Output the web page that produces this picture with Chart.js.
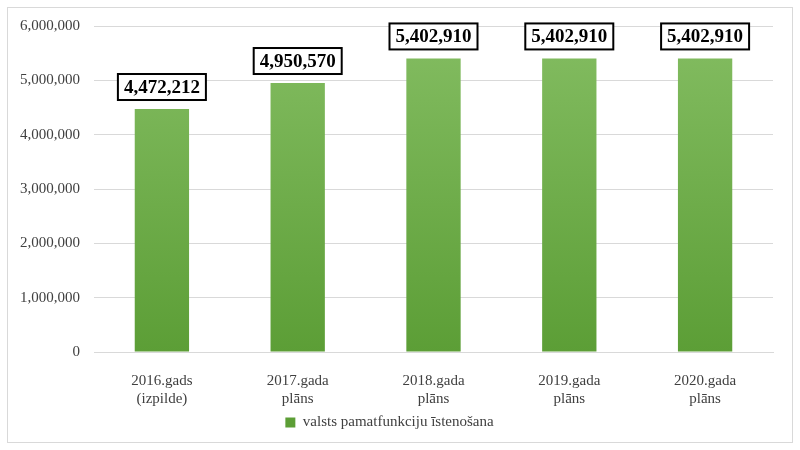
<!DOCTYPE html>
<html lang="lv">
<head>
  <meta charset="UTF-8" />
  <title>valsts pamatfunkciju īstenošana</title>
  <script src="https://cdn.jsdelivr.net/npm/chart.js"></script>
  <style>
    html, body { margin: 0; padding: 0; background: #fff; }
    .wrap { position: relative; width: 800px; height: 450px; }
    .frame { position: absolute; left: 7px; top: 7px; width: 784px; height: 434px; border: 1px solid #d9d9d9; pointer-events: none; }
  </style>
</head>
<body>
<div class="wrap">
  <canvas id="chart" width="800" height="450"></canvas>
  <div class="frame"></div>
</div>

<script>
  // chart data
  const categories = [
    ['2016.gads', '(izpilde)'],
    ['2017.gada', 'plāns'],
    ['2018.gada', 'plāns'],
    ['2019.gada', 'plāns'],
    ['2020.gada', 'plāns']
  ];
  const values = [4472212, 4950570, 5402910, 5402910, 5402910];
  const seriesName = 'valsts pamatfunkciju īstenošana';
  const yTicks = [0, 1000000, 2000000, 3000000, 4000000, 5000000, 6000000];

  const fmt = n => n.toLocaleString('en-US');
  const serif = '"Liberation Serif", "Times New Roman", serif';

  // boxed value labels above the bars
  const boxLabels = {
    id: 'boxLabels',
    afterDatasetsDraw(chart) {
      const ctx = chart.ctx;
      const meta = chart.getDatasetMeta(0);
      ctx.save();
      ctx.font = 'bold 19px ' + serif;
      ctx.textAlign = 'center';
      ctx.textBaseline = 'middle';
      meta.data.forEach((bar, i) => {
        const txt = fmt(values[i]);
        const w = ctx.measureText(txt).width + 12;
        const h = 26;
        const cy = bar.y - 22;
        ctx.fillStyle = '#fff';
        ctx.fillRect(bar.x - w / 2, cy - h / 2, w, h);
        ctx.lineWidth = 2;
        ctx.strokeStyle = '#000';
        ctx.strokeRect(bar.x - w / 2, cy - h / 2, w, h);
        ctx.fillStyle = '#000';
        ctx.fillText(txt, bar.x, cy + 1);
      });
      ctx.restore();
    }
  };

  function barGradient(context) {
    const area = context.chart.chartArea;
    if (!area) return '#70ad47';
    const g = context.chart.ctx.createLinearGradient(0, area.top, 0, area.bottom);
    g.addColorStop(0, '#84bd62');
    g.addColorStop(1, '#5c9e36');
    return g;
  }

  new Chart(document.getElementById('chart'), {
    type: 'bar',
    data: {
      labels: categories,
      datasets: [{
        label: seriesName,
        data: values,
        backgroundColor: barGradient,
        borderWidth: 0,
        categoryPercentage: 1,
        barPercentage: 0.4
      }]
    },
    options: {
      responsive: false,
      animation: false,
      layout: { padding: { left: 6, right: 27, top: 26, bottom: 10 } },
      scales: {
        x: {
          grid: { display: false },
          border: { color: '#d9d9d9' },
          afterFit: scale => { scale.height = 59; },
          ticks: { color: '#404040', font: { family: serif, size: 15 }, padding: 12, maxRotation: 0 }
        },
        y: {
          min: 0,
          max: 6000000,
          afterBuildTicks: axis => { axis.ticks = yTicks.map(v => ({ value: v })); },
          grid: { color: '#d9d9d9', drawTicks: false },
          border: { display: false },
          ticks: { color: '#404040', font: { family: serif, size: 15 }, padding: 14, callback: v => fmt(v) }
        }
      },
      plugins: {
        legend: {
          position: 'bottom',
          labels: { color: '#404040', font: { family: serif, size: 15 }, boxWidth: 10, boxHeight: 10, padding: 4 }
        },
        tooltip: { enabled: false }
      }
    },
    plugins: [boxLabels]
  });
</script>
</body>
</html>
